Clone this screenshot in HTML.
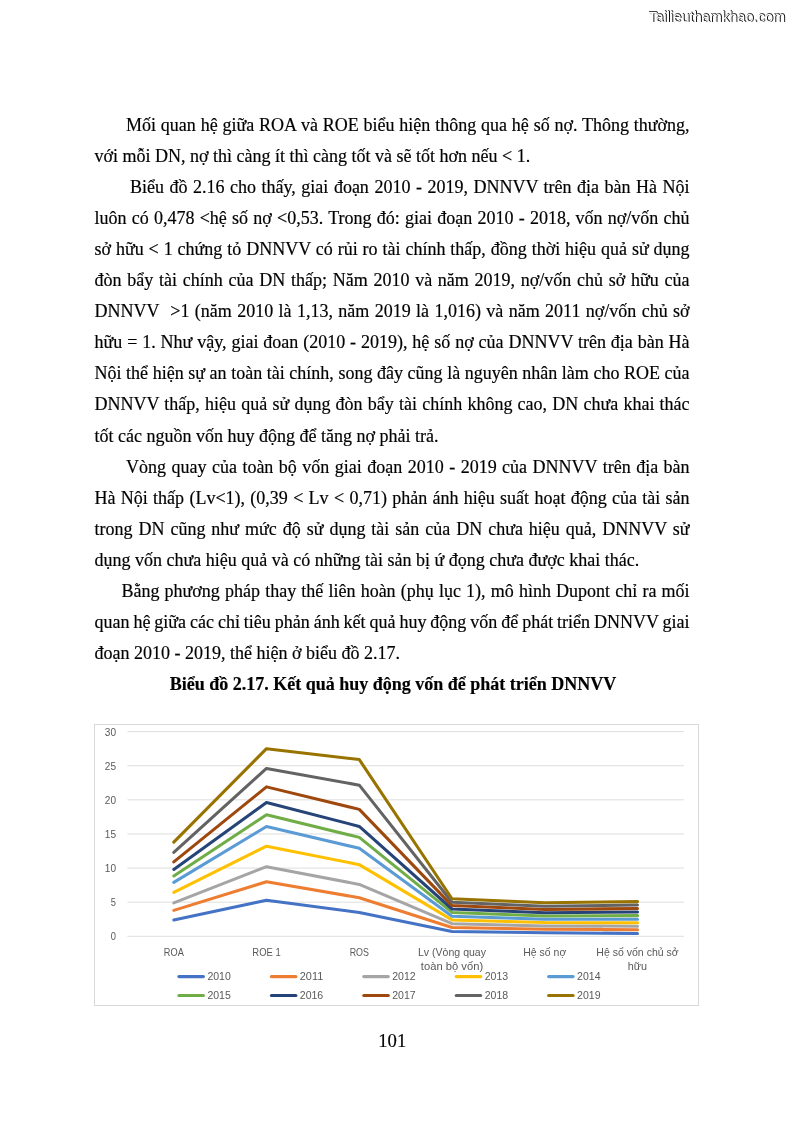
<!DOCTYPE html>
<html><head><meta charset="utf-8"><title>p101</title>
<style>
html,body{margin:0;padding:0;background:#fff;}
body{width:794px;height:1123px;position:relative;overflow:hidden;font-family:"Liberation Serif",serif;color:#000;}
.l,.t{-webkit-text-stroke:0.18px #000;}
.l{position:absolute;font-size:18.0px;line-height:20px;height:20px;white-space:nowrap;}
.j{text-align:justify;text-align-last:justify;white-space:normal;}
.t{position:absolute;left:0;width:794px;text-align:center;font-weight:bold;font-size:18.0px;line-height:20px;height:20px;white-space:nowrap;}
.wm{position:absolute;font-family:"Liberation Sans",sans-serif;}
</style></head><body><div id="w" style="position:absolute;left:0;top:0;width:794px;height:1123px;will-change:transform">

<div class="l" style="left:126.0px;top:114.77px;word-spacing:0.329px">Mối quan hệ giữa ROA và ROE biểu hiện thông qua hệ số nợ. Thông thường,</div>
<div class="l" style="left:94.5px;top:145.86px">với mỗi DN, nợ thì càng ít thì càng tốt và sẽ tốt hơn nếu &lt; 1.</div>
<div class="l" style="left:130.0px;top:176.94px;word-spacing:1.013px">Biểu đồ 2.16 cho thấy, giai đoạn 2010 - 2019, DNNVV trên địa bàn Hà Nội</div>
<div class="l" style="left:94.5px;top:208.01px;word-spacing:0.736px">luôn có 0,478 &lt;hệ số nợ &lt;0,53. Trong đó: giai đoạn 2010 - 2018, vốn nợ/vốn chủ</div>
<div class="l" style="left:94.5px;top:239.09px;word-spacing:0.419px">sở hữu &lt; 1 chứng tỏ DNNVV có rủi ro tài chính thấp, đồng thời hiệu quả sử dụng</div>
<div class="l" style="left:94.5px;top:270.18px;word-spacing:1.245px">đòn bẩy tài chính của DN thấp; Năm 2010 và năm 2019, nợ/vốn chủ sở hữu của</div>
<div class="l" style="left:94.5px;top:301.25px;word-spacing:0.884px">DNNVV&nbsp; &gt;1 (năm 2010 là 1,13, năm 2019 là 1,016) và năm 2011 nợ/vốn chủ sở</div>
<div class="l" style="left:94.5px;top:332.33px;word-spacing:0.391px">hữu = 1. Như vậy, giai đoan (2010 - 2019), hệ số nợ của DNNVV trên địa bàn Hà</div>
<div class="l" style="left:94.5px;top:363.42px;word-spacing:0.087px">Nội thể hiện sự an toàn tài chính, song đây cũng là nguyên nhân làm cho ROE của</div>
<div class="l" style="left:94.5px;top:394.49px;word-spacing:0.703px">DNNVV thấp, hiệu quả sử dụng đòn bẩy tài chính không cao, DN chưa khai thác</div>
<div class="l" style="left:94.5px;top:425.57px">tốt các nguồn vốn huy động để tăng nợ phải trả.</div>
<div class="l" style="left:126.0px;top:456.66px;word-spacing:0.970px">Vòng quay của toàn bộ vốn giai đoạn 2010 - 2019 của DNNVV trên địa bàn</div>
<div class="l" style="left:94.5px;top:487.73px;word-spacing:0.810px">Hà Nội thấp (Lv&lt;1), (0,39 &lt; Lv &lt; 0,71) phản ánh hiệu suất hoạt động của tài sản</div>
<div class="l" style="left:94.5px;top:518.81px;word-spacing:1.453px">trong DN cũng như mức độ sử dụng tài sản của DN chưa hiệu quả, DNNVV sử</div>
<div class="l" style="left:94.5px;top:549.89px">dụng vốn chưa hiệu quả và có những tài sản bị ứ đọng chưa được khai thác.</div>
<div class="l" style="left:121.4px;top:580.97px;word-spacing:0.668px">Bằng phương pháp thay thế liên hoàn (phụ lục 1), mô hình Dupont chỉ ra mối</div>
<div class="l" style="left:94.5px;top:612.05px;word-spacing:-0.569px">quan hệ giữa các chỉ tiêu phản ánh kết quả huy động vốn để phát triển DNNVV giai</div>
<div class="l" style="left:94.5px;top:643.13px">đoạn 2010 - 2019, thể hiện ở biểu đồ 2.17.</div>
<div class="t" style="top:674.21px;left:-4px">Biểu đồ 2.17. Kết quả huy động vốn để phát triển DNNVV</div>
<svg width="794" height="1123" viewBox="0 0 794 1123" style="position:absolute;left:0;top:0" font-family="Liberation Sans, sans-serif" font-size="10.9" fill="#595959">
<rect x="94.5" y="724.5" width="604" height="281" fill="#fff" stroke="#D9D9D9" stroke-width="1"/>
<line x1="127.4" x2="683.9" y1="936.30" y2="936.30" stroke="#DEDEDC" stroke-width="1"/>
<text x="116" y="940.40" text-anchor="end" textLength="5.2" lengthAdjust="spacingAndGlyphs">0</text>
<line x1="127.4" x2="683.9" y1="902.18" y2="902.18" stroke="#DEDEDC" stroke-width="1"/>
<text x="116" y="906.28" text-anchor="end" textLength="5.2" lengthAdjust="spacingAndGlyphs">5</text>
<line x1="127.4" x2="683.9" y1="868.07" y2="868.07" stroke="#DEDEDC" stroke-width="1"/>
<text x="116" y="872.17" text-anchor="end" textLength="11.2" lengthAdjust="spacingAndGlyphs">10</text>
<line x1="127.4" x2="683.9" y1="833.95" y2="833.95" stroke="#DEDEDC" stroke-width="1"/>
<text x="116" y="838.05" text-anchor="end" textLength="11.2" lengthAdjust="spacingAndGlyphs">15</text>
<line x1="127.4" x2="683.9" y1="799.83" y2="799.83" stroke="#DEDEDC" stroke-width="1"/>
<text x="116" y="803.93" text-anchor="end" textLength="11.2" lengthAdjust="spacingAndGlyphs">20</text>
<line x1="127.4" x2="683.9" y1="765.72" y2="765.72" stroke="#DEDEDC" stroke-width="1"/>
<text x="116" y="769.82" text-anchor="end" textLength="11.2" lengthAdjust="spacingAndGlyphs">25</text>
<line x1="127.4" x2="683.9" y1="731.60" y2="731.60" stroke="#DEDEDC" stroke-width="1"/>
<text x="116" y="735.70" text-anchor="end" textLength="11.2" lengthAdjust="spacingAndGlyphs">30</text>
<polyline points="173.8,919.92 266.5,900.14 359.3,912.42 452.0,931.46 544.8,932.68 637.5,933.43" fill="none" stroke="#4472C4" stroke-width="3.05" stroke-linejoin="round" stroke-linecap="round"/>
<polyline points="173.8,910.37 266.5,881.71 359.3,897.75 452.0,927.43 544.8,929.27 637.5,929.68" fill="none" stroke="#ED7D31" stroke-width="3.05" stroke-linejoin="round" stroke-linecap="round"/>
<polyline points="173.8,902.87 266.5,866.70 359.3,884.44 452.0,923.68 544.8,925.93 637.5,926.20" fill="none" stroke="#A5A5A5" stroke-width="3.05" stroke-linejoin="round" stroke-linecap="round"/>
<polyline points="173.8,892.29 266.5,846.23 359.3,864.65 452.0,919.92 544.8,922.59 637.5,922.72" fill="none" stroke="#FFC000" stroke-width="3.05" stroke-linejoin="round" stroke-linecap="round"/>
<polyline points="173.8,882.40 266.5,826.44 359.3,848.28 452.0,916.17 544.8,919.31 637.5,919.17" fill="none" stroke="#5B9BD5" stroke-width="3.05" stroke-linejoin="round" stroke-linecap="round"/>
<polyline points="173.8,875.91 266.5,814.84 359.3,837.36 452.0,912.42 544.8,916.03 637.5,915.63" fill="none" stroke="#70AD47" stroke-width="3.05" stroke-linejoin="round" stroke-linecap="round"/>
<polyline points="173.8,869.43 266.5,802.56 359.3,826.44 452.0,909.01 544.8,912.76 637.5,912.08" fill="none" stroke="#264478" stroke-width="3.05" stroke-linejoin="round" stroke-linecap="round"/>
<polyline points="173.8,861.93 266.5,786.87 359.3,809.39 452.0,905.59 544.8,909.48 637.5,908.53" fill="none" stroke="#9E480E" stroke-width="3.05" stroke-linejoin="round" stroke-linecap="round"/>
<polyline points="173.8,852.37 266.5,768.45 359.3,785.16 452.0,902.18 544.8,906.21 637.5,904.98" fill="none" stroke="#636363" stroke-width="3.05" stroke-linejoin="round" stroke-linecap="round"/>
<polyline points="173.8,842.14 266.5,748.66 359.3,759.58 452.0,898.77 544.8,902.73 637.5,901.64" fill="none" stroke="#997300" stroke-width="3.05" stroke-linejoin="round" stroke-linecap="round"/>
<text x="173.8" y="956.0" text-anchor="middle" textLength="20.0" lengthAdjust="spacingAndGlyphs">ROA</text>
<text x="266.5" y="956.0" text-anchor="middle" textLength="28.4" lengthAdjust="spacingAndGlyphs">ROE 1</text>
<text x="359.3" y="956.0" text-anchor="middle" textLength="19.3" lengthAdjust="spacingAndGlyphs">ROS</text>
<text x="452.0" y="956.0" text-anchor="middle" textLength="68.0" lengthAdjust="spacingAndGlyphs">Lv (Vòng quay</text>
<text x="452.0" y="970.3" text-anchor="middle" textLength="62.3" lengthAdjust="spacingAndGlyphs">toàn bộ vốn)</text>
<text x="544.8" y="956.0" text-anchor="middle" textLength="43.0" lengthAdjust="spacingAndGlyphs">Hệ số nợ</text>
<text x="637.5" y="956.0" text-anchor="middle" textLength="82.4" lengthAdjust="spacingAndGlyphs">Hệ số vốn chủ sở</text>
<text x="637.5" y="970.3" text-anchor="middle" textLength="19.3" lengthAdjust="spacingAndGlyphs">hữu</text>
<line x1="178.9" x2="203.4" y1="976.6" y2="976.6" stroke="#4472C4" stroke-width="3.05" stroke-linecap="round"/>
<text x="207.4" y="980.4" textLength="23.4" lengthAdjust="spacingAndGlyphs">2010</text>
<line x1="271.4" x2="295.9" y1="976.6" y2="976.6" stroke="#ED7D31" stroke-width="3.05" stroke-linecap="round"/>
<text x="299.8" y="980.4" textLength="23.4" lengthAdjust="spacingAndGlyphs">2011</text>
<line x1="363.8" x2="388.3" y1="976.6" y2="976.6" stroke="#A5A5A5" stroke-width="3.05" stroke-linecap="round"/>
<text x="392.2" y="980.4" textLength="23.4" lengthAdjust="spacingAndGlyphs">2012</text>
<line x1="456.2" x2="480.7" y1="976.6" y2="976.6" stroke="#FFC000" stroke-width="3.05" stroke-linecap="round"/>
<text x="484.7" y="980.4" textLength="23.4" lengthAdjust="spacingAndGlyphs">2013</text>
<line x1="548.6" x2="573.1" y1="976.6" y2="976.6" stroke="#5B9BD5" stroke-width="3.05" stroke-linecap="round"/>
<text x="577.1" y="980.4" textLength="23.4" lengthAdjust="spacingAndGlyphs">2014</text>
<line x1="178.9" x2="203.4" y1="995.5" y2="995.5" stroke="#70AD47" stroke-width="3.05" stroke-linecap="round"/>
<text x="207.4" y="999.3" textLength="23.4" lengthAdjust="spacingAndGlyphs">2015</text>
<line x1="271.4" x2="295.9" y1="995.5" y2="995.5" stroke="#264478" stroke-width="3.05" stroke-linecap="round"/>
<text x="299.8" y="999.3" textLength="23.4" lengthAdjust="spacingAndGlyphs">2016</text>
<line x1="363.8" x2="388.3" y1="995.5" y2="995.5" stroke="#9E480E" stroke-width="3.05" stroke-linecap="round"/>
<text x="392.2" y="999.3" textLength="23.4" lengthAdjust="spacingAndGlyphs">2017</text>
<line x1="456.2" x2="480.7" y1="995.5" y2="995.5" stroke="#636363" stroke-width="3.05" stroke-linecap="round"/>
<text x="484.7" y="999.3" textLength="23.4" lengthAdjust="spacingAndGlyphs">2018</text>
<line x1="548.6" x2="573.1" y1="995.5" y2="995.5" stroke="#997300" stroke-width="3.05" stroke-linecap="round"/>
<text x="577.1" y="999.3" textLength="23.4" lengthAdjust="spacingAndGlyphs">2019</text>
</svg>
<div class="l" style="left:0;width:784.5px;text-align:center;top:1030.99px;font-size:18.7px">101</div>
<div class="wm" style="left:648.2px;top:7.6px;font-size:14.5px;line-height:19px;color:#fff;text-shadow:1px 0 0 #111,0.5px -0.6px 0 #444;white-space:nowrap;letter-spacing:0.04px">Tailieuthamkhao.com</div>
</div></body></html>
